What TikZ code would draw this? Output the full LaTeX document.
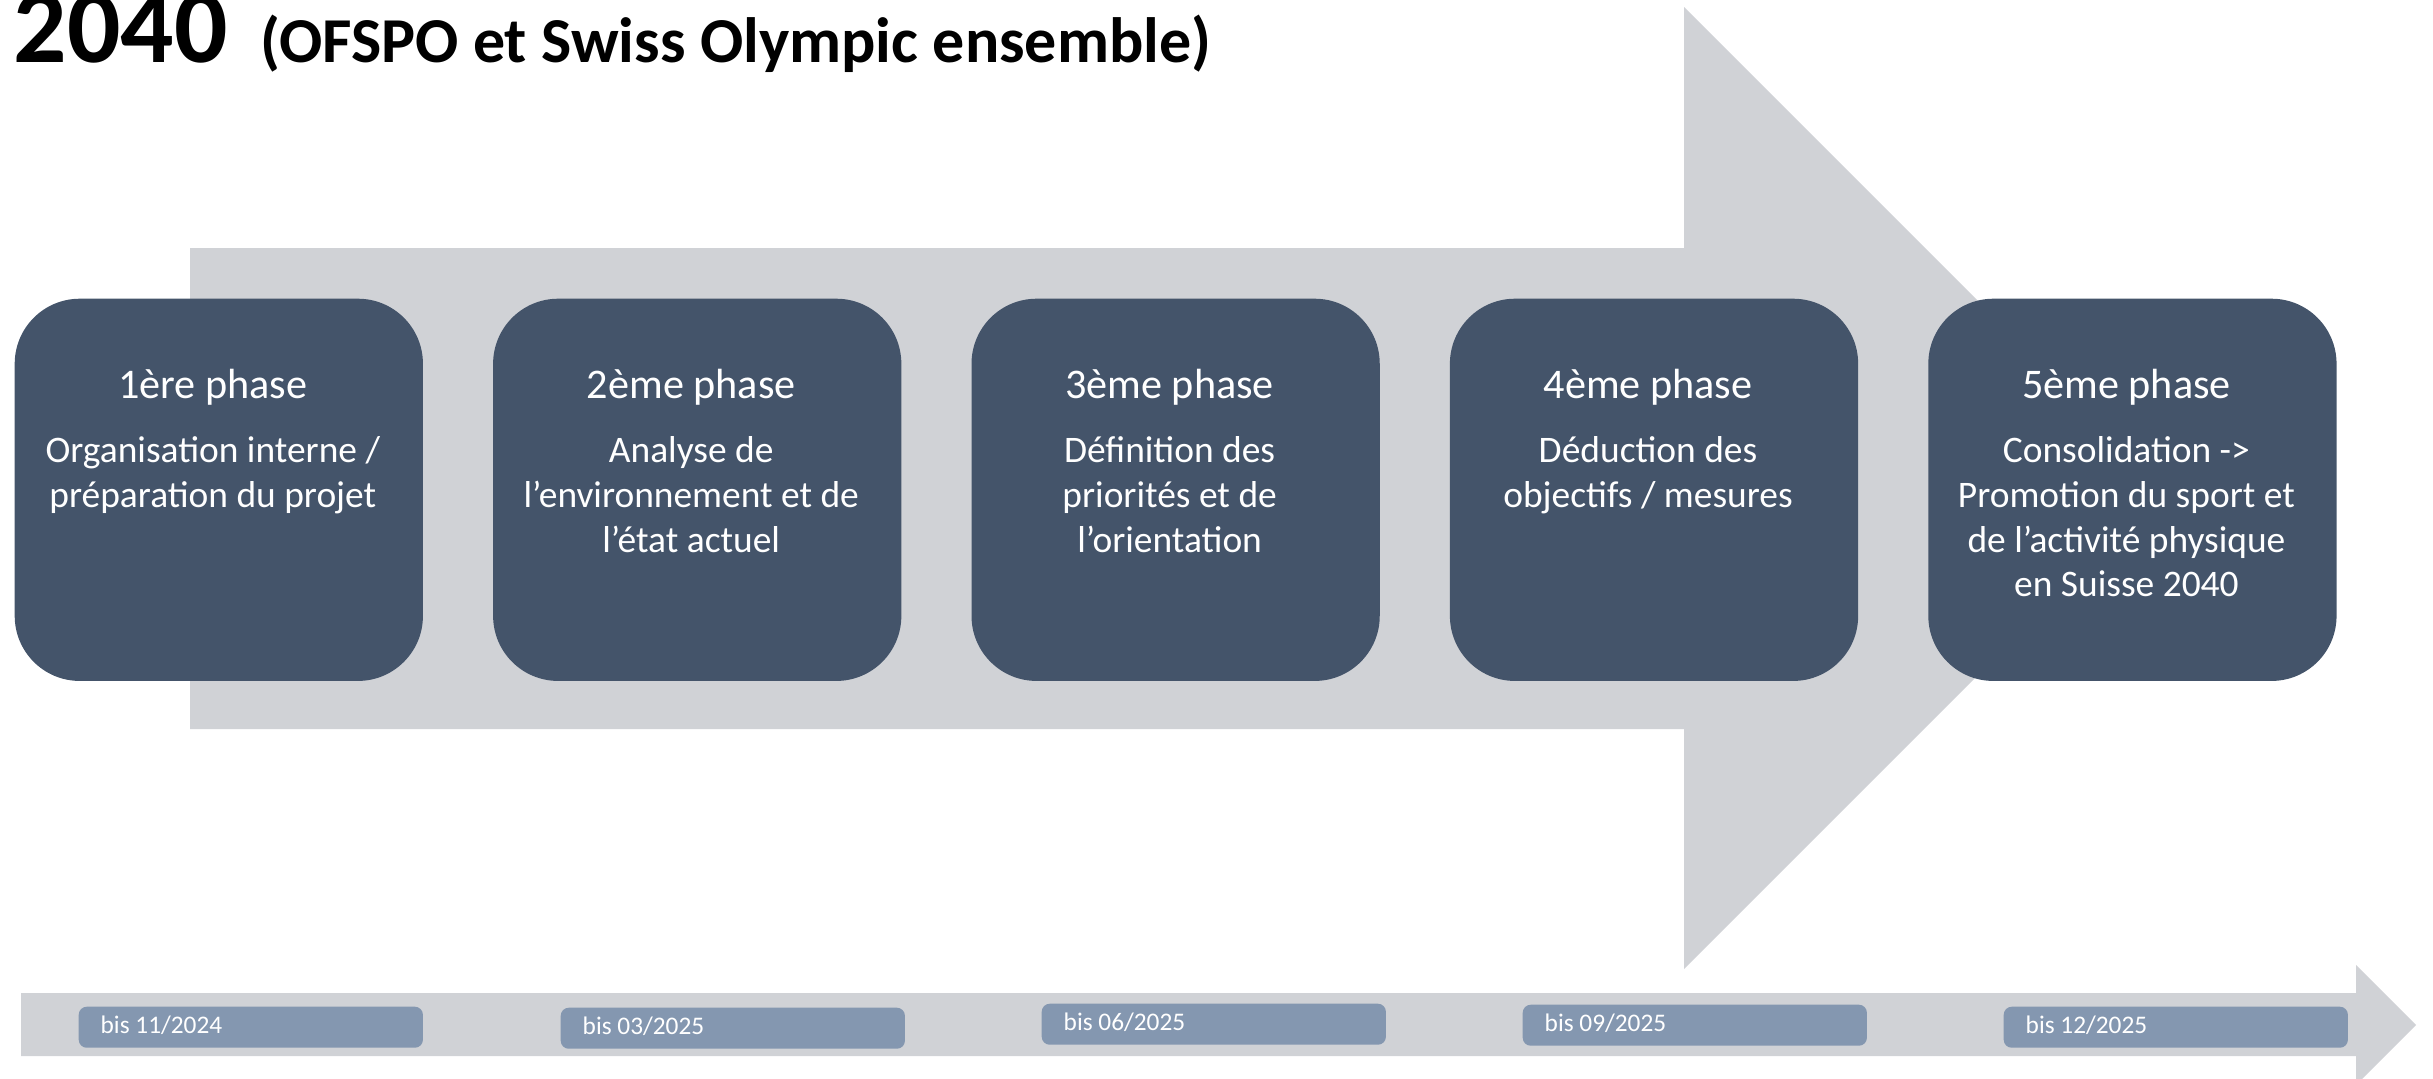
\documentclass[tikz,border=0pt]{standalone}
\usepackage{fontspec}
\setmainfont{Carlito}
\usetikzlibrary{calc}
\definecolor{phaseblue}{HTML}{44546A}
\definecolor{arrowgray}{HTML}{D0D2D6}
\definecolor{dateblue}{HTML}{8497B0}
\newcommand{\hstrut}{\rule{0pt}{10pt}}
\begin{document}
\begin{tikzpicture}[x=0.01cm,y=-0.01cm]
            \tikzset{
                phasebox/.style={fill=phaseblue, rounded corners=0.65cm, minimum width=4.08cm, minimum height=3.82cm, inner sep=0pt, anchor=north west},
                phasehead/.style={text=white, inner sep=0pt, anchor=base, font=\fontsize{12pt}{14pt}\selectfont},
                phasetext/.style={text=white, inner sep=0pt, anchor=north, align=center, font=\fontsize{10.65pt}{12.7pt}\selectfont},
                datebox/.style={fill=dateblue, rounded corners=0.08cm, minimum width=3.44cm, minimum height=0.41cm, inner sep=0pt, anchor=north west},
                datetext/.style={text=white, inner sep=0pt, anchor=base west, font=\fontsize{7.2pt}{8pt}\selectfont},}
            \useasboundingbox (0,0) rectangle (2433,1078);
            % grosse fleche
            \fill[arrowgray] (190,248) -- (1684,248) -- (1684,7) -- (2165,488) -- (1684,969) -- (1684,729) -- (190,729) -- cycle;
            % ligne du temps
            \fill[arrowgray] (21,993) -- (2356,993) -- (2356,965) -- (2416,1025) -- (2356,1085) -- (2356,1056) -- (21,1056) -- cycle;
            % titre
            \node[anchor=base west, inner sep=0pt, font=\bfseries] (titre) at (13,62) {\fontsize{30pt}{34pt}\selectfont 2040\hspace{2.5pt} \fontsize{18.2pt}{22pt}\selectfont(OFSPO et Swiss Olympic ensemble)};
            % phases
            \foreach \i/\nom/\txt in {1/{1ère phase}/{Organisation interne /\\préparation du projet},
                                      2/{2ème phase}/{Analyse de\\l’environnement et de\\l’état actuel},
                                      3/{3ème phase}/{Définition des\\priorités et de\\l’orientation},
                                      4/{4ème phase}/{Déduction des\\objectifs / mesures},
                                      5/{5ème phase}/{Consolidation ->\\Promotion du sport et\\de l’activité physique\\en Suisse 2040}}{
                \node[phasebox] (p\i) at ({14+478.4*(\i-1)},298) {};
                \node[phasehead] (h\i) at ($(p\i.north)+(-6,100)$) {\nom};
                \node[phasetext] (t\i) at ($(p\i.north)+(-6,129)$) {\hstrut\txt};
            }
            % echeances
            \foreach \i/\dx/\dy/\quand in {1/78/1006/{bis 11/2024}, 2/560/1007/{bis 03/2025}, 3/1041/1003/{bis 06/2025},
                                           4/1522/1004/{bis 09/2025}, 5/2003/1006/{bis 12/2025}}{
                \node[datebox] (d\i) at (\dx,\dy) {};
                \node[datetext] (b\i) at ($(d\i.north west)+(22,27)$) {\quand};
            }
        \end{tikzpicture}
\end{document}
